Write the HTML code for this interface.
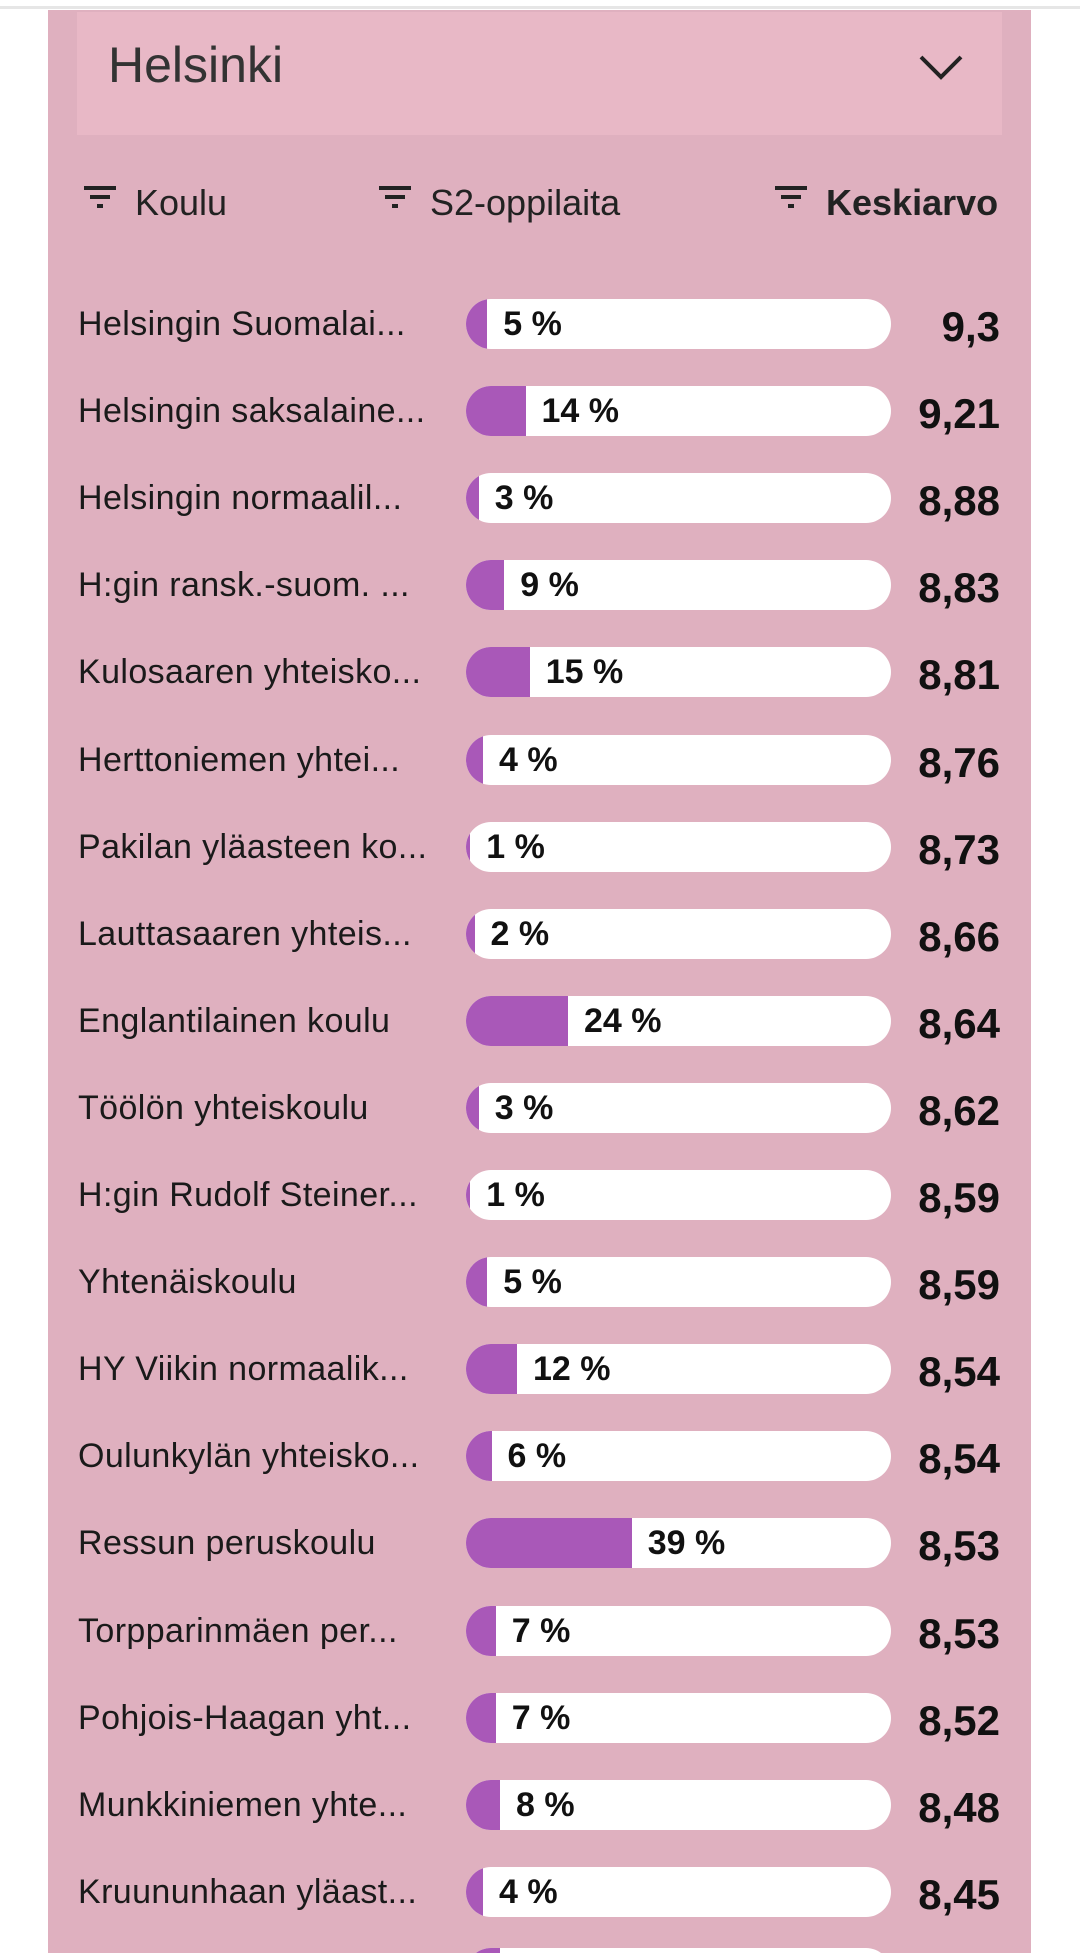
<!DOCTYPE html>
<html style="width:1080px;height:1953px;overflow:hidden"><head><meta charset="utf-8"><style>
body{margin:0;width:1080px;height:1953px;background:#fff;overflow:hidden;font-family:"Liberation Sans",sans-serif;position:relative}
.topline{position:absolute;left:0;top:6px;width:1080px;height:3px;background:#e6e6e6}
.panel{position:absolute;left:48px;top:10px;width:983px;height:1943px;background:#dfb0bf}
.hdr{position:absolute;left:77px;top:12px;width:925px;height:123px;background:#e8b8c6}
.hdr span{position:absolute;left:31px;top:24px;font-size:50px;color:#333}
.chev{position:absolute;left:917px;top:52px}
.col{position:absolute;top:182px;font-size:36px;color:#222}
.col svg{position:absolute;left:-52px;top:2px}
.row{position:absolute;left:0;width:1080px;height:87px}
.lbl{position:absolute;left:78px;top:24px;height:50px;line-height:50px;font-size:34px;letter-spacing:0.4px;color:#1a1a1a;white-space:nowrap}
.bar{position:absolute;left:466px;top:24px;width:425px;height:50px;background:#fff;border-radius:25px;overflow:hidden}
.fill{position:absolute;left:0;top:0;height:50px;background:#a958b8}
.pct{position:absolute;top:24px;height:50px;line-height:50px;font-size:34px;font-weight:bold;color:#111;white-space:nowrap}
.val{position:absolute;right:80px;top:27px;height:50px;line-height:50px;font-size:42px;font-weight:bold;color:#111}
</style></head><body>
<div class="topline"></div>
<div class="panel"></div>
<div class="hdr"><span>Helsinki</span></div>
<svg class="chev" width="48" height="30" viewBox="0 0 48 30"><polyline points="4,5 24,25 44,5" fill="none" stroke="#222" stroke-width="4"/></svg>
<div class="col" style="left:135px"><svg width="36" height="30"><rect x="1" y="2" width="32" height="4" fill="#222"/><rect x="7" y="11" width="20" height="4" fill="#222"/><rect x="14" y="20" width="6" height="4" fill="#222"/></svg>Koulu</div>
<div class="col" style="left:430px"><svg width="36" height="30"><rect x="1" y="2" width="32" height="4" fill="#222"/><rect x="7" y="11" width="20" height="4" fill="#222"/><rect x="14" y="20" width="6" height="4" fill="#222"/></svg>S2-oppilaita</div>
<div class="col" style="left:826px;font-weight:bold"><svg width="36" height="30"><rect x="1" y="2" width="32" height="4" fill="#222"/><rect x="7" y="11" width="20" height="4" fill="#222"/><rect x="14" y="20" width="6" height="4" fill="#222"/></svg>Keskiarvo</div>
<div id="rows"></div>
<script>
var d=[["Helsingin Suomalai...",5,"9,3"],["Helsingin saksalaine...",14,"9,21"],["Helsingin normaalil...",3,"8,88"],["H:gin ransk.-suom. ...",9,"8,83"],["Kulosaaren yhteisko...",15,"8,81"],["Herttoniemen yhtei...",4,"8,76"],["Pakilan yläasteen ko...",1,"8,73"],["Lauttasaaren yhteis...",2,"8,66"],["Englantilainen koulu",24,"8,64"],["Töölön yhteiskoulu",3,"8,62"],["H:gin Rudolf Steiner...",1,"8,59"],["Yhtenäiskoulu",5,"8,59"],["HY Viikin normaalik...",12,"8,54"],["Oulunkylän yhteisko...",6,"8,54"],["Ressun peruskoulu",39,"8,53"],["Torpparinmäen per...",7,"8,53"],["Pohjois-Haagan yht...",7,"8,52"],["Munkkiniemen yhte...",8,"8,48"],["Kruununhaan yläast...",4,"8,45"],["",8,""]];
var h="";
d.forEach(function(r,i){var top=275+i*87.1;if(i==19)top-=6;var w=Math.max(425*r[1]/100,4);
h+='<div class="row" style="top:'+top+'px"><div class="lbl">'+r[0]+'</div><div class="bar"><div class="fill" style="width:'+w+'px"></div></div>'+(r[2]?'<div class="pct" style="left:'+(466+w+16)+'px">'+r[1]+' %</div><div class="val">'+r[2]+'</div>':'')+'</div>';});
document.getElementById("rows").innerHTML=h;
</script>
</body></html>
